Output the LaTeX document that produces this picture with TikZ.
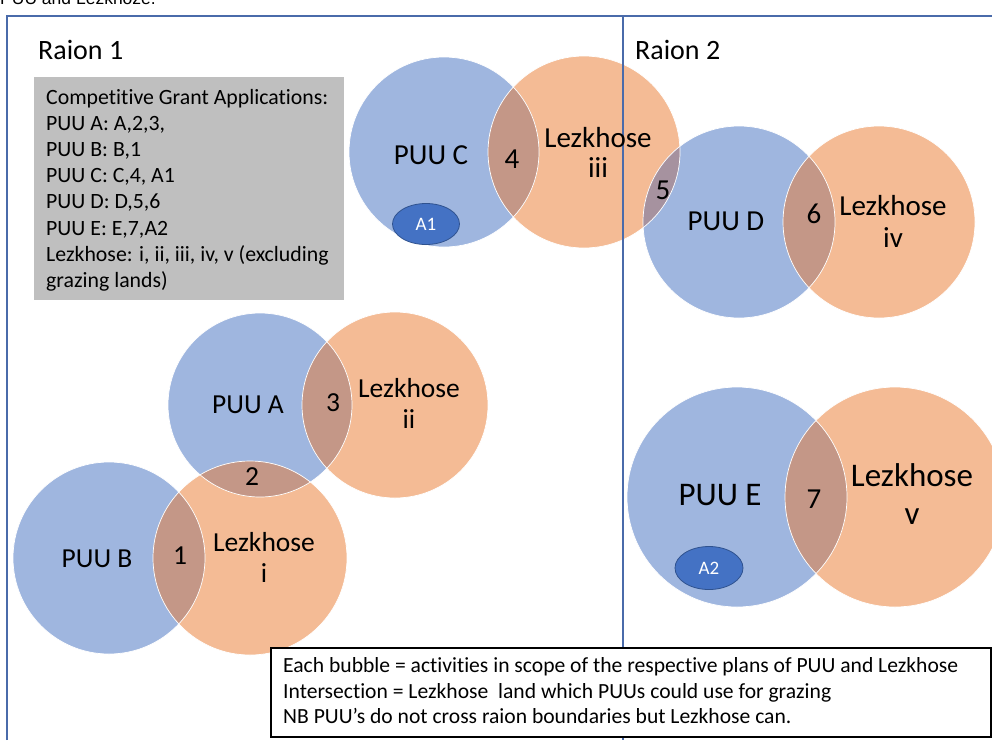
\documentclass[tikz,border=0pt]{standalone}
\usepackage{fontspec}
\setmainfont[Ligatures=NoCommon]{Carlito}
\newfontfamily\arialf{Liberation Sans}
\definecolor{puublue}{HTML}{9FB6DF}
\definecolor{lezor}{HTML}{F4BB95}
\definecolor{lensbr}{HTML}{C49787}
\definecolor{lensgr}{HTML}{A6929F}
\definecolor{framebl}{HTML}{4A6BAA}
\definecolor{boxgray}{HTML}{BFBFBF}
\definecolor{appblue}{HTML}{4472C4}
\definecolor{appedge}{HTML}{2F528F}
\tikzset{
  puu/.style={fill=puublue},
  lez/.style={fill=lezor},
  rim/.style={draw=white,line width=0.7pt},
  lbl/.style={inner sep=0pt,anchor=base,font=\fontsize{29}{31}\selectfont},
  lblsm/.style={inner sep=0pt,anchor=base,font=\fontsize{27.5}{31}\selectfont},
  lblbig/.style={inner sep=0pt,anchor=base,font=\fontsize{33}{38}\selectfont},
  gtxt/.style={inner sep=0pt,anchor=base west,font=\fontsize{21.8}{26}\selectfont},
  ntxt/.style={inner sep=0pt,anchor=base west,font=\fontsize{21.6}{25}\selectfont},
  app/.style={ellipse,draw=appedge,line width=0.8pt,fill=appblue,text=white,
    font=\fontsize{19}{20}\selectfont,inner sep=0pt},
  frameln/.style={draw=framebl,line width=1.3pt}
}
\usetikzlibrary{shapes.geometric}
\begin{document}
\begin{tikzpicture}[x=1pt,y=-1pt]
\useasboundingbox (0,0) rectangle (992,740);
% cut-off caption
\node[inner sep=0pt,anchor=base west,font=\arialf\fontsize{17.5}{20}\selectfont] (cap) at (0,4.5) {PUU and Lezkhoze.};
% frame
\coordinate (ftl) at (7,16);
\coordinate (ftr) at (992,16);
\coordinate (fbl) at (7,740);
\draw[frameln] (fbl) -- (ftl) -- (ftr);
% centres
\coordinate (cC) at (444,152);
\coordinate (ciii) at (584,152);
\coordinate (cD) at (739,222);
\coordinate (civ) at (879,222);
\coordinate (cA) at (260,405);
\coordinate (cii) at (395,405);
\coordinate (cB) at (109,558);
\coordinate (ci) at (250,558);
\coordinate (cE) at (737,497);
\coordinate (cv) at (895,497);
% fills
\fill[lez] (ciii) circle[radius=96];
\fill[puu] (cC) circle[radius=95];
\fill[puu] (cD) circle[radius=96];
\fill[lez] (civ) circle[radius=96];
\fill[puu] (cA) circle[radius=92];
\fill[lez] (cii) circle[radius=93];
\fill[puu] (cB) circle[radius=96];
\fill[lez] (ci) circle[radius=97];
\fill[puu] (cE) circle[radius=110];
\fill[lez] (cv) circle[radius=110];
% lenses
\begin{scope}\clip (cC) circle[radius=95]; \fill[lensbr] (ciii) circle[radius=96];\end{scope}
\begin{scope}\clip (cD) circle[radius=96]; \fill[lensgr] (ciii) circle[radius=96];\end{scope}
\begin{scope}\clip (cD) circle[radius=96]; \fill[lensbr] (civ) circle[radius=96];\end{scope}
\begin{scope}\clip (cA) circle[radius=92]; \fill[lensbr] (cii) circle[radius=93];\end{scope}
\begin{scope}\clip (cA) circle[radius=92]; \fill[lensbr] (ci) circle[radius=97];\end{scope}
\begin{scope}\clip (cB) circle[radius=96]; \fill[lensbr] (ci) circle[radius=97];\end{scope}
\begin{scope}\clip (cE) circle[radius=110]; \fill[lensbr] (cv) circle[radius=110];\end{scope}
% rims
\draw[rim] (ciii) circle[radius=96];
\draw[rim] (cC) circle[radius=95];
\draw[rim] (cD) circle[radius=96];
\draw[rim] (civ) circle[radius=96];
\draw[rim] (cA) circle[radius=92];
\draw[rim] (cii) circle[radius=93];
\draw[rim] (cB) circle[radius=96];
\draw[rim] (ci) circle[radius=97];
\draw[rim] (cE) circle[radius=110];
\draw[rim] (cv) circle[radius=110];
% raion divider
\coordinate (dtop) at (623,16);
\coordinate (dbot) at (623,740);
\draw[frameln] (dtop) -- (dbot);
% raion labels
\node[inner sep=0pt,anchor=base west,font=\fontsize{28}{30}\selectfont] (r1) at (38,59) {Raion 1};
\node[inner sep=0pt,anchor=base west,font=\fontsize{28}{30}\selectfont] (r2) at (635,59) {Raion 2};
% grey box
\fill[boxgray] (34,77) rectangle (344,300);
\node[gtxt] (g1) at (46,104.5) {Competitive Grant Applications:};
\node[gtxt] (g2) at (46,130.6) {PUU A: A,2,3,};
\node[gtxt] (g3) at (46,156.7) {PUU B: B,1};
\node[gtxt] (g4) at (46,182.8) {PUU C: C,4, A1};
\node[gtxt] (g5) at (46,208.9) {PUU D: D,5,6};
\node[gtxt] (g6) at (46,235.0) {PUU E: E,7,A2};
\node[gtxt] (g7) at (46,261.1) {Lezkhose: i, ii, iii, iv, v (excluding};
\node[gtxt] (g8) at (46,287.2) {grazing lands)};
% circle labels
\node[lbl] (tC) at (431,164) {PUU C};
\node[lbl] (n4) at (512,168) {4};
\node[lbl] (tiii) at (598,147) {Lezkhose};
\node[lbl] (tiii2) at (598,177) {iii};
\node[lbl] (n5) at (663,199) {5};
\node[lbl] (tD) at (726,230) {PUU D};
\node[lbl] (n6) at (814,223) {6};
\node[lbl] (tiv) at (893,215) {Lezkhose};
\node[lbl] (tiv2) at (893,247) {iv};
\node[lblsm] (tA) at (248,413) {PUU A};
\node[lblsm] (n3) at (333,411) {3};
\node[lblsm] (tii) at (409,397) {Lezkhose};
\node[lblsm] (tii2) at (409,428) {ii};
\node[lblsm] (n2) at (252,485) {2};
\node[lblsm] (tB) at (97,567) {PUU B};
\node[lblsm] (n1) at (180,564) {1};
\node[lblsm] (ti) at (264,551) {Lezkhose};
\node[lblsm] (ti2) at (264,582) {i};
\node[lblbig] (tE) at (720,505) {PUU E};
\node[lbl] (n7) at (814,508) {7};
\node[lblbig] (tv) at (912,486) {Lezkhose};
\node[lblbig] (tv2) at (912,524) {v};
% applications
\node[app,minimum width=67pt,minimum height=41pt] (a1) at (426,224) {A1};
\node[app,minimum width=68pt,minimum height=43pt] (a2) at (709,568) {A2};
% note box
\draw[fill=white,draw=black,line width=1.2pt] (271,648) rectangle (991,737);
\node[ntxt] (t1) at (283,672) {Each bubble = activities in scope of the respective plans of PUU and Lezkhose};
\node[ntxt] (t2) at (283,698) {Intersection = Lezkhose\ \ land which PUUs could use for grazing};
\node[ntxt] (t3) at (283,723) {NB PUU’s do not cross raion boundaries but Lezkhose\ can.};
\end{tikzpicture}
\end{document}
